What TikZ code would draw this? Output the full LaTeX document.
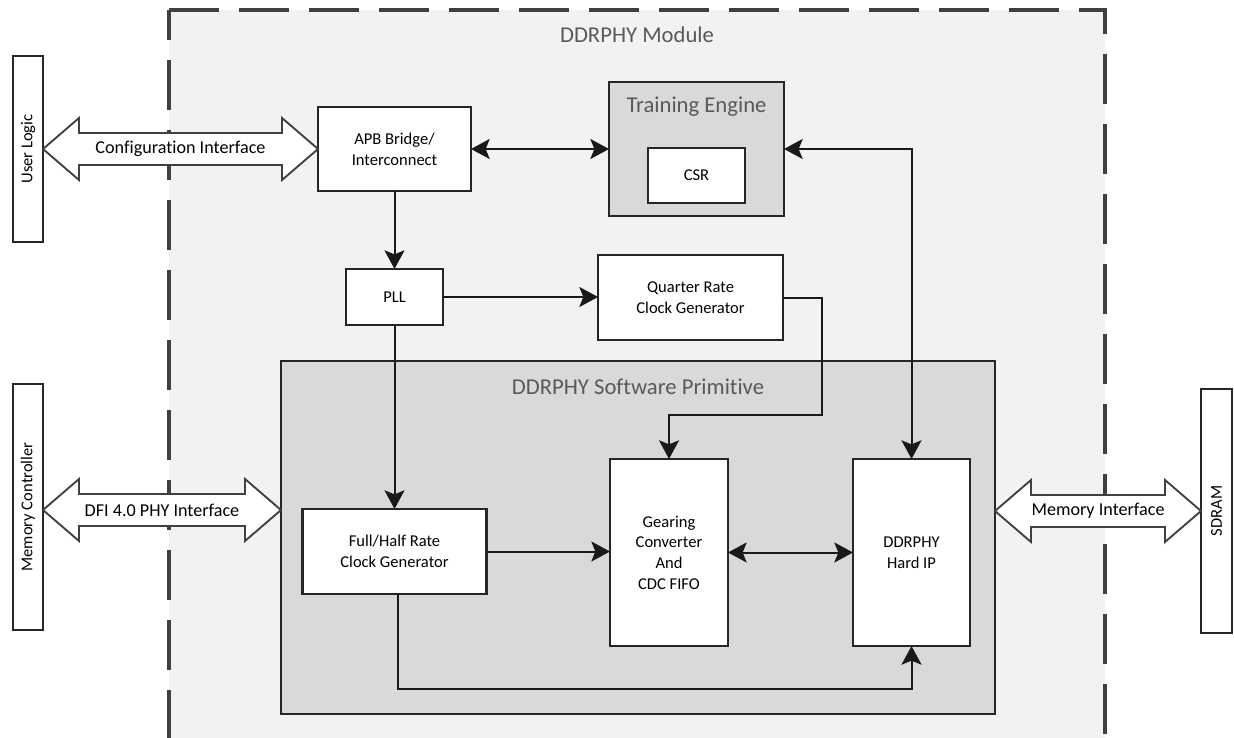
\documentclass[tikz,border=0pt]{standalone}
\usepackage{fontspec}
\setmainfont{Carlito}[Ligatures=NoCommon]
\usetikzlibrary{arrows.meta,calc}
\definecolor{modfill}{HTML}{F2F2F2}
\definecolor{grayfill}{HTML}{D9D9D9}
\definecolor{boxc}{HTML}{262626}
\definecolor{dashc}{HTML}{404040}
\definecolor{titlec}{HTML}{595959}
\newcommand\boxfont{\fontsize{12.4}{15.5}\selectfont}
\newcommand\lblfont{\fontsize{13.6}{16}\selectfont}
\newcommand\titlefont{\fontsize{17}{20}\selectfont}
\newcommand\fatarrow[3]{%
  \draw[fat] (#1) -- ($(#1)+(36,-31)$) -- ($(#1)+(36,-16)$) -- ($(#2)+(-36,-16)$)
    -- ($(#2)+(-36,-31)$) -- (#2) -- ($(#2)+(-36,31)$) -- ($(#2)+(-36,16)$)
    -- ($(#1)+(36,16)$) -- ($(#1)+(36,31)$) -- cycle;
  \node[lbl] at ($(#1)!0.5!(#2)$) {#3};}
\tikzset{
  sz/.style 2 args={minimum width=#1*0.75pt, minimum height=#2*0.75pt},
  box/.style={draw=boxc, line width=2pt, fill=white, inner sep=0pt, outer sep=0pt,
    align=center, font=\boxfont},
  graybox/.style={box, fill=grayfill},
  title/.style={text=titlec, font=\titlefont, inner sep=0pt},
  lbl/.style={font=\lblfont, inner sep=0pt},
  conn/.style={line width=1.5pt, draw=black!90,
    >={Stealth[length=14pt,width=15pt,inset=3pt]}},
  fat/.style={draw=dashc, line width=1.4pt, fill=white, line join=miter},
  modborder/.style={draw=dashc, line width=2.3pt, dash pattern=on 37.5pt off 15pt}
}
\begin{document}
\begin{tikzpicture}[x=0.75pt,y=-0.75pt]
\useasboundingbox (0,0) rectangle (1234,738);
\fill[white] (0,0) rectangle (1234,738);
% module
\fill[modfill] (169,10) rectangle (1105,738);
\draw[modborder] (169,10) -- (1105,10) -- (1105,738);
\draw[modborder, dash phase=15pt] (169,10) -- (169,738);
\node[title] (modt) at (637,35) {DDRPHY Module};

% external boxes
\node[box, sz={30}{186}] (ul) at (28,149) {\rotatebox{90}{User Logic}};
\node[box, sz={30}{246}] (mc) at (28,507) {\rotatebox{90}{Memory Controller}};
\node[box, sz={31}{244}] (sd) at (1216.5,511) {\rotatebox{90}{SDRAM}};

% software primitive
\node[graybox, sz={714}{353}] (sw) at (638,537.5) {};
\node[title] (swt) at ($(sw.north)+(0,26)$) {DDRPHY Software Primitive};

% inner boxes
\node[box, sz={153}{84}] (apb) at (394.5,149) {APB Bridge/\\Interconnect};
\node[graybox, sz={175}{134}] (te) at (696.5,149) {};
\node[title] (tet) at ($(te.north)+(0,25)$) {Training Engine};
\node[box, sz={97}{55}] (csr) at (696.5,175.5) {CSR};
\node[box, sz={97}{56}] (pll) at (394.5,297) {PLL};
\node[box, sz={185}{85}] (qr) at (690.5,297.5) {Quarter Rate\\Clock Generator};
\node[box, sz={184}{85}] (fh) at (394.5,551.5) {Full/Half Rate\\Clock Generator};
\node[box, sz={118}{187}] (gc) at (669,552.5) {Gearing\\Converter\\And\\CDC FIFO};
\node[box, sz={117}{187}] (hip) at (911.5,552.5) {DDRPHY\\Hard IP};

% connectors
\draw[conn, <->] (apb.east) -- (te.west);
\draw[conn, <->] (te.east) -| (hip.north);
\draw[conn, ->] (apb.south) -- (pll.north);
\draw[conn, ->] (pll.east) -- (pll.east -| qr.west);
\draw[conn, ->] (pll.south) -- (fh.north);
\coordinate (qbend) at (822,415);
\draw[conn, ->] (qr.east) -| (qbend) -| (gc.north);
\draw[conn, ->] (fh.east) -- (fh.east -| gc.west);
\draw[conn, <->] (gc.east) -- (gc.east -| hip.west);
\coordinate (lowrow) at (0,689);
\coordinate (fhout) at ($(fh.south)+(3.5,0)$);
\draw[conn, ->] (fhout) |- (lowrow -| hip.south) -- (hip.south);

% fat interface arrows
\coordinate (dfiL) at ($(mc.east)+(0,3)$);
\coordinate (dfiR) at (sw.west |- dfiL);
\coordinate (miL) at (sw.east |- sd.west);
\fatarrow{ul.east}{apb.west}{Configuration Interface}
\fatarrow{dfiL}{dfiR}{DFI 4.0 PHY Interface}
\fatarrow{miL}{sd.west}{Memory Interface}
\end{tikzpicture}
\end{document}
